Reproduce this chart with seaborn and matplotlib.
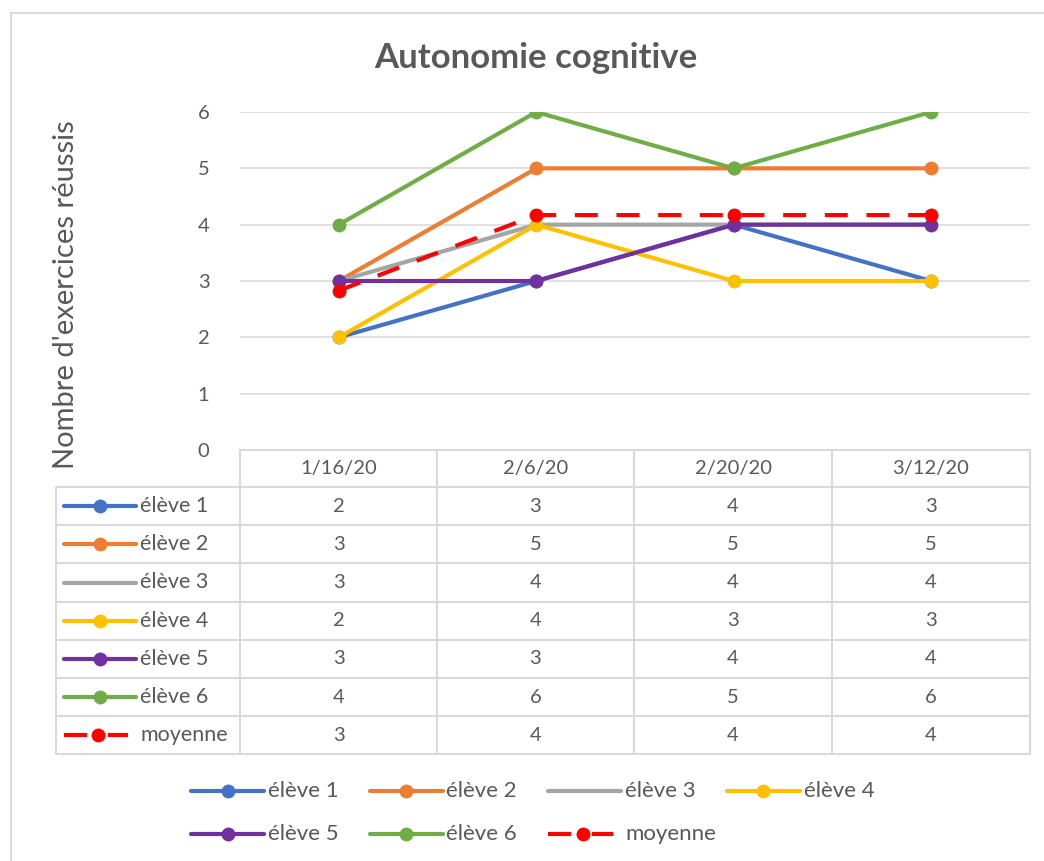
import matplotlib
matplotlib.use("Agg")
import matplotlib.pyplot as plt
import matplotlib.lines as mlines
import seaborn as sns

# données du graphique
dates = ["1/16/20", "2/6/20", "2/20/20", "3/12/20"]
eleve_1 = [2, 3, 4, 3]
eleve_2 = [3, 5, 5, 5]
eleve_3 = [3, 4, 4, 4]
eleve_4 = [2, 4, 3, 3]
eleve_5 = [3, 3, 4, 4]
eleve_6 = [4, 6, 5, 6]
moyenne = [2.83, 4.17, 4.17, 4.17]

noms = ["élève 1", "élève 2", "élève 3", "élève 4", "élève 5", "élève 6", "moyenne"]
series = [eleve_1, eleve_2, eleve_3, eleve_4, eleve_5, eleve_6, moyenne]
couleurs = ["#4472C4", "#ED7D31", "#A5A5A5", "#FFC000", "#7030A0", "#70AD47", "#FF0000"]
marqueurs = ["o", "o", "", "o", "o", "o", "o"]
styles = ["-", "-", "-", "-", "-", "-", (0, (5.5, 4.5))]

sns.set_theme(style="white")
plt.rcParams["font.family"] = ["Lato", "DejaVu Sans"]
GRIS = "#595959"
TRAIT = "#d9d9d9"
FS_VAL = 14.5
FS_NOM = 15.5
FS_LEG = 16

fig = plt.figure(figsize=(10.44, 8.61), dpi=100)

# calque en pixels pour le cadre, le tableau de données et la légende
ov = fig.add_axes([0, 0, 1, 1])
ov.set_xlim(0, 1044)
ov.set_ylim(861, 0)
ov.axis("off")
ov.plot([11, 1044], [13, 13], color=TRAIT, lw=1.5)
ov.plot([11, 11], [13, 861], color=TRAIT, lw=1.5)


def cle(x0, longueur, yc, c, m, ls, fs_txt, nom):
    """Petite clé de légende façon Excel : trait + rond + texte."""
    if ls != "-":
        ov.add_line(mlines.Line2D([x0, x0 + longueur - 8], [yc, yc], color=c, lw=3,
                                  linestyle=(0, (5.5, 5))))
        xm = x0 + longueur / 2 - 2
    else:
        ov.add_line(mlines.Line2D([x0, x0 + longueur], [yc, yc], color=c, lw=3,
                                  solid_capstyle="round"))
        xm = x0 + longueur / 2
    if m:
        ov.plot([xm], [yc], marker=m, color=c, markersize=10, markeredgewidth=0)
    ov.text(x0 + longueur + 4, yc, nom, ha="left", va="center", fontsize=fs_txt, color=GRIS)


# zone du graphique
ax = fig.add_axes([240 / 1044, 1 - 450 / 861, 790 / 1044, 338 / 861])
ax.set_facecolor("none")
x_pos = list(range(len(dates)))

for nom, vals, c, m, ls in zip(noms, series, couleurs, marqueurs, styles):
    sns.lineplot(x=x_pos, y=vals, ax=ax, color=c, linewidth=3, marker=m,
                 markersize=10, markeredgewidth=0, linestyle=ls, legend=False)

ax.set_xlim(-0.5, 3.5)
ax.set_ylim(0, 6)
ax.set_yticks(range(0, 7))
ax.set_xticks([])
ax.yaxis.grid(True, color=TRAIT, linewidth=1.1)
ax.set_axisbelow(True)
for s in ax.spines.values():
    s.set_visible(False)
ax.tick_params(axis="y", length=0, pad=22, labelsize=FS_VAL, labelcolor=GRIS)
ax.set_xlabel("")
ax.set_ylabel("")

# tableau de données sous l'axe
col_bords = [240, 437, 634, 832, 1030]
haut, h_entete, h_ligne = 450, 37, 38.2
y_lignes = [haut + h_entete + i * h_ligne for i in range(len(noms) + 1)]
ov.plot([240, 1030], [haut, haut], color=TRAIT, lw=1.5)
for y in y_lignes:
    ov.plot([56, 1030], [y, y], color=TRAIT, lw=1.5)
ov.plot([56, 56], [y_lignes[0], y_lignes[-1]], color=TRAIT, lw=1.5)
for xb in col_bords:
    ov.plot([xb, xb], [haut, y_lignes[-1]], color=TRAIT, lw=1.5)

for j, d in enumerate(dates):
    xc = (col_bords[j] + col_bords[j + 1]) / 2
    ov.text(xc, haut + h_entete / 2, d, ha="center", va="center", fontsize=FS_VAL, color=GRIS)

for i, (nom, vals, c, m, ls) in enumerate(zip(noms, series, couleurs, marqueurs, styles)):
    yc = y_lignes[i] + h_ligne / 2
    cle(64, 72, yc, c, m, ls, FS_NOM, nom)
    for j, v in enumerate(vals):
        xc = (col_bords[j] + col_bords[j + 1]) / 2
        ov.text(xc, yc, f"{v:.0f}", ha="center", va="center", fontsize=FS_VAL, color=GRIS)

# titre et axe y
fig.text(536 / 1044, 1 - 58 / 861, "Autonomie cognitive", ha="center", va="center",
         fontsize=25, fontweight="bold", color=GRIS)
fig.text(66 / 1044, 1 - 295 / 861, "Nombre d'exercices réussis", ha="center", va="center",
         rotation=90, fontsize=21, color=GRIS)

# légende en bas : colonnes de largeur égale, remplies ligne par ligne
for k, (nom, c, m, ls) in enumerate(zip(noms, couleurs, marqueurs, styles)):
    col, lig = k % 4, k // 4
    cle(191 + col * 178.5, 73, 791 + lig * 43, c, m, ls, FS_LEG, nom)

fig.savefig("out.png", dpi=100)
